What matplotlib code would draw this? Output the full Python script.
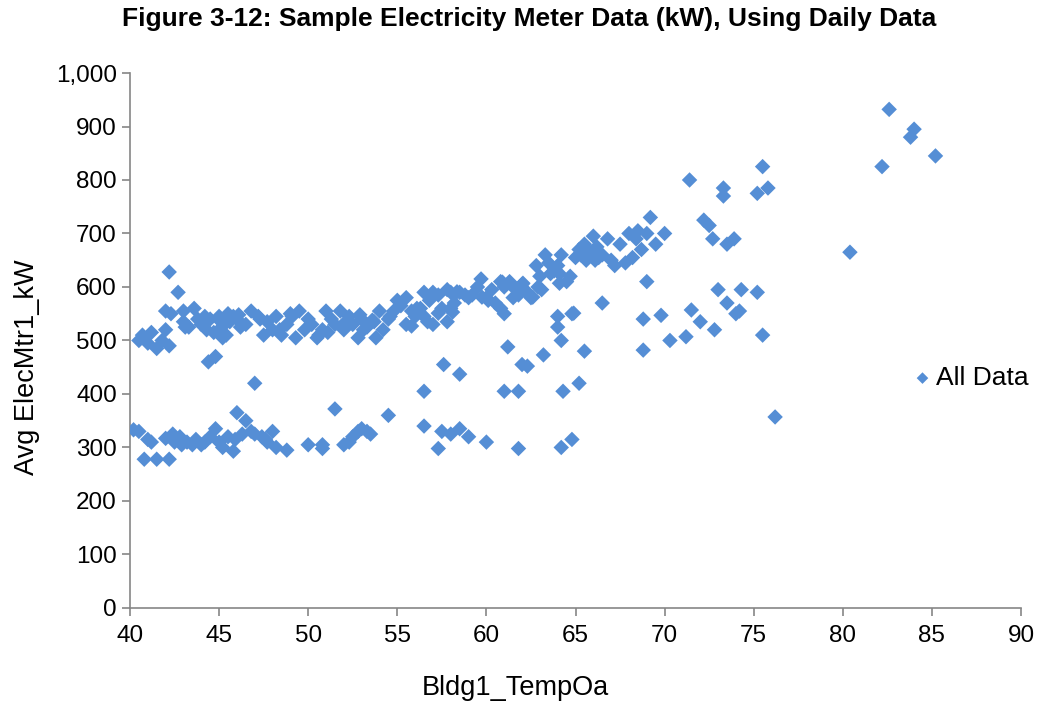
import matplotlib.pyplot as plt
from matplotlib.ticker import FuncFormatter

plt.rcParams['font.family'] = ['Liberation Sans', 'DejaVu Sans']

# upper band (occupied days)
temp_hi = [40.5,40.7,41,41.2,41.5,41.8,42,42,42.2,42.2,42.3,42.7,43,43,43.3,43.6,43.8,44,44.2,44.3,44.4,44.5,44.8,
           45,45,45.2,45.3,45.4,45.5,45.6,45.8,46,46.2,46.5,46.8,47,47.2,47.5,47.7,48,48.2,48.5,48.8,49,49.3,49.5,
           49.8,50,50.2,50.5,50.8,51,51.3,51.5,51.8,52,52.3,52.5,52.8,53,53.3,53.7,53.8,54,54.5,54.8,55,55.2,55.5,
           55.8,56,56.3,56.5,56.8,57,57.3,57.5,57.8,58,58.2,58.5,59,59.5,59.7,60,60.3,60.8,61,61.3,61.5,62,62.3,62.5,
           62.8,63,63.3,63.5,63.8,64,64.2,64.5,65,65.2,65.5,65.8,66,66.2,66.5,66.8,67,67.5,68,68.2,68.5,68.7,69,69.2,
           69.5,70,71.4,72.2,72.5,72.7,73.3,73.3,73.5,73.9,75.2,75.5,75.8,80.4,82.2,82.6,83.8,84,85.2,
           55.5,56.5,57,57.8,58,60.8,61,61.5,46.1,45.1,48.4,50.6,52.1,54.2,59.2,60.5,62.9,63.6,64.7,65.6,66.3,67.2,
           43.1,44.7,47.3,49.1,51.1,53.1,54.6,56.1,58.8,60.1,61.8,63.1,64.1,65.3,66.1,67.8,68.4,
           52.9,53.6,55.8,56.7,57.3,58.1,58.35,59.75,60.9,62.05,62.6,64.1,64.9]
kw_hi = [500,510,495,515,485,500,555,520,490,628,550,590,555,535,525,560,540,530,545,520,460,540,470,
         545,520,505,530,510,550,535,545,540,525,530,555,420,545,510,535,520,545,510,530,550,505,555,
         520,540,530,505,520,555,540,530,555,520,545,530,505,540,525,535,505,555,540,555,575,565,580,
         555,545,560,590,575,590,585,560,595,590,570,590,580,600,615,580,595,610,600,610,580,605,590,580,
         640,620,660,645,630,640,660,610,655,670,680,665,695,675,660,690,650,680,700,655,705,670,700,730,
         680,700,800,725,715,690,785,770,680,690,775,825,785,665,825,932,880,895,845,
         530,545,530,535,560,560,550,600,548,535,520,510,535,520,585,570,600,625,620,650,655,640,
         525,515,540,545,515,520,545,560,585,575,585,595,625,660,650,645,690,
         548,538,527,535,551,553,591,581,609,607,581,607,551]

# lower band (unoccupied days)
temp_lo = [40.2,40.5,40.8,41,41.2,41.5,42,42.2,42.4,42.5,42.8,43.2,43.5,44,44.2,44.5,44.8,45,45.2,45.5,45.8,
           46,46.3,46.5,46.8,47,47.4,47.7,48,48.2,48.8,50,50.8,50.8,51.5,52,52.3,52.8,53,53.5,54.5,56.5,57.3,
           57.5,58,58.5,59,60,61.8,64.2,64.8,42.9,43.7,45.9,47.6,52.5,53.3]
kw_lo = [333,330,278,315,310,278,317,278,325,310,320,310,305,305,310,320,335,310,300,320,293,
         365,325,350,330,325,320,310,330,300,295,305,305,298,372,305,310,330,335,325,360,340,298,
         330,325,335,320,310,298,300,315,305,315,315,315,320,330]

# scattered points in between
temp_mid = [56.5,57.6,58.5,61,61.2,61.8,62,62.3,63.2,64.3,64,64,64.2,64.8,65.2,65.5,66.5,68.8,68.8,69,
            69.8,70.3,71.2,71.5,72,72.8,73,73.5,74.2,74,74.3,75.2,75.5,76.2]
kw_mid = [405,455,437,405,488,405,455,452,473,405,545,525,500,550,420,480,570,540,482,610,
          547,500,507,557,535,520,595,570,555,550,595,590,510,357]

temp = temp_hi + temp_lo + temp_mid
kw = kw_hi + kw_lo + kw_mid

fig = plt.figure(figsize=(10.39, 7.02), dpi=100)
ax = fig.add_axes([0.1251, 0.134, 0.8576, 0.762])
ax.scatter(temp, kw, marker='D', s=62, color='#558ED5', edgecolors='none', label='All Data', zorder=3)

ax.set_xlim(40, 90)
ax.set_ylim(0, 1000)
ax.set_xticks(range(40, 91, 5))
ax.set_yticks(range(0, 1001, 100))
ax.yaxis.set_major_formatter(FuncFormatter(lambda v, p: '{:,.0f}'.format(v)))
for s in ['top', 'right']:
    ax.spines[s].set_visible(False)
for s in ['left', 'bottom']:
    ax.spines[s].set_color('#868686')
    ax.spines[s].set_linewidth(1.2)
ax.tick_params(axis='both', colors='#868686', labelcolor='black', labelsize=17.5, length=6, width=1.2)
ax.tick_params(axis='x', pad=6)

ax.set_xlabel('Bldg1_TempOa', fontsize=19.5)
ax.set_ylabel('Avg ElecMtr1_kW', fontsize=19.5)
ax.xaxis.set_label_coords(0.433, -0.125)
ax.yaxis.set_label_coords(-0.101, 0.45)
fig.suptitle('Figure 3-12: Sample Electricity Meter Data (kW), Using Daily Data',
             fontsize=19, fontweight='bold', x=0.509, y=0.99)

fig.legend(loc='center left', bbox_to_anchor=(0.865, 0.4615), frameon=False, fontsize=19,
           borderpad=0, handlelength=0.8, handletextpad=0.1, markerscale=0.75)

fig.savefig('out.png', dpi=100)
